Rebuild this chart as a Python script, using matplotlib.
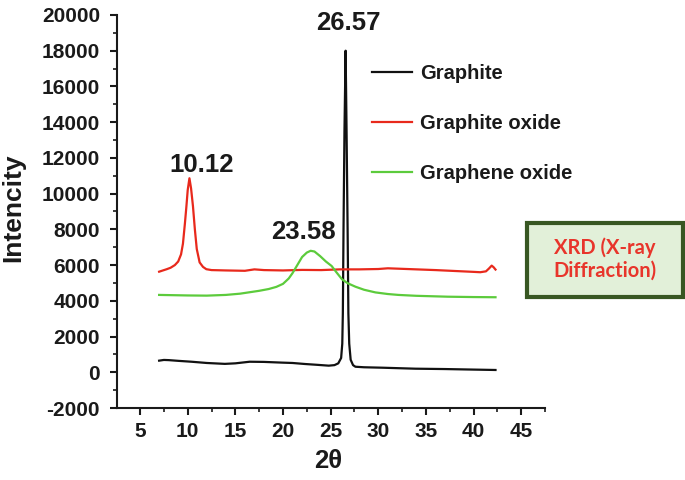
import matplotlib.pyplot as plt
from matplotlib.patches import Rectangle
from matplotlib.ticker import MultipleLocator

# XRD patterns
graphite_2theta = [7.0, 7.5, 8.0, 9.0, 10.4, 12.0, 13.9, 15.0, 16.5, 18.0, 19.9, 21.0, 22.3, 23.5,
                   24.8, 25.4, 25.8, 26.1, 26.22, 26.28, 26.35, 26.45, 26.57, 26.67, 26.78, 26.86,
                   26.95, 27.1, 27.35, 27.6, 28.5, 30.4, 33.9, 37.0, 40.0, 42.3]
graphite_int = [650, 690, 680, 640, 590, 520, 470, 500, 590, 580, 540, 520, 463, 420,
                370, 400, 500, 800, 1600, 3300, 8000, 13500, 18000, 13500, 8000, 3300,
                1600, 700, 400, 310, 280, 256, 200, 180, 150, 128]

gr_oxide_2theta = [7.0, 7.8, 8.2, 8.65, 9.0, 9.3, 9.5, 9.7, 9.86, 10.0, 10.18, 10.35, 10.55, 10.75,
                   10.95, 11.25, 11.6, 11.95, 12.5, 14.0, 16.0, 17.0, 18.0, 20.0, 22.0, 24.0, 26.0,
                   28.0, 30.0, 31.0, 32.0, 34.0, 36.0, 38.0, 40.0, 40.7, 41.3, 41.6, 41.9, 42.1, 42.3]
gr_oxide_int = [5630, 5770, 5850, 6000, 6200, 6600, 7200, 8300, 9270, 10200, 10860, 10300, 9300, 8000,
                6900, 6150, 5900, 5770, 5720, 5700, 5680, 5760, 5720, 5700, 5730, 5720, 5760,
                5760, 5780, 5820, 5800, 5760, 5720, 5670, 5620, 5600, 5650, 5800, 5970, 5880, 5750]

gn_oxide_2theta = [7.0, 8.0, 10.0, 12.0, 14.0, 15.5, 16.5, 17.5, 18.5, 19.3, 20.0, 20.6, 21.0,
                   21.5, 22.0, 22.5, 22.9, 23.3, 23.9, 24.5, 25.1, 25.6, 26.2, 26.8, 27.6,
                   28.5, 29.7, 31.0, 32.1, 34.0, 37.3, 40.0, 42.3]
gn_oxide_int = [4330, 4320, 4300, 4290, 4330, 4400, 4480, 4560, 4660, 4780, 4950, 5250, 5550,
                6000, 6450, 6700, 6800, 6760, 6500, 6200, 5950, 5600, 5200, 4980, 4790,
                4620, 4470, 4380, 4330, 4280, 4230, 4210, 4200]

series_names = ["Graphite", "Graphite oxide", "Graphene oxide"]
series_colors = ["#111111", "#e8291c", "#5ccb3c"]

peak_labels = ["10.12", "23.58", "26.57"]
peak_label_pos = [(11.5, 11210), (22.1, 7446), (26.9, 19165)]

x_ticks = [5, 10, 15, 20, 25, 30, 35, 40, 45]
y_ticks = [-2000, 0, 2000, 4000, 6000, 8000, 10000, 12000, 14000, 16000, 18000, 20000]

FONT = ["Liberation Sans", "DejaVu Sans"]
plt.rcParams["font.family"] = FONT
plt.rcParams["font.weight"] = "bold"
plt.rcParams["axes.unicode_minus"] = False

fig = plt.figure(figsize=(6.85, 4.8), dpi=100)
ax = fig.add_axes([0.1704, 0.15, 0.6253, 0.8188])

curves = [(graphite_2theta, graphite_int), (gr_oxide_2theta, gr_oxide_int), (gn_oxide_2theta, gn_oxide_int)]
for (xs, ys), name, color in zip(curves, series_names, series_colors):
    ax.plot(xs, ys, color=color, lw=1.6, label=name)

for text, (px, py) in zip(peak_labels, peak_label_pos):
    ax.text(px, py, text, ha="center", va="baseline", fontsize=18.5, fontweight="bold", color="#1a1a1a")

ax.set_xlim(2.55, 47.5)
ax.set_ylim(-2000, 20000)
ax.set_xticks(x_ticks, labels=[str(v) for v in x_ticks], fontweight="bold", fontsize=15, color="#1a1a1a")
ax.set_yticks(y_ticks, labels=[str(v) for v in y_ticks], fontweight="bold", fontsize=15, color="#1a1a1a")
ax.xaxis.set_minor_locator(MultipleLocator(2.5))
ax.yaxis.set_minor_locator(MultipleLocator(1000))

for side in ["top", "right"]:
    ax.spines[side].set_visible(False)
for side in ["left", "bottom"]:
    ax.spines[side].set_linewidth(1.5)
    ax.spines[side].set_color("#1a1a1a")

ax.tick_params(which="major", direction="out", length=5, width=1.5, color="#1a1a1a")
ax.tick_params(which="minor", direction="out", length=3, width=1.2, color="#1a1a1a")
ax.tick_params(axis="y", pad=7)
ax.tick_params(axis="x", pad=5)

fig.text(13 / 685, 1 - 208 / 480, "Intencity", rotation=90, ha="center", va="center",
         fontsize=19, fontweight="bold", color="#1a1a1a")
fig.text(328 / 685, 1 - 461 / 480, "2\u03b8", ha="center", va="center",
         fontsize=18.5, fontweight="bold", color="#1a1a1a")

leg = ax.legend(loc="upper left", bbox_to_anchor=(372 / 685, 1 - 64 / 480), bbox_transform=fig.transFigure,
                frameon=False, prop={"family": FONT, "weight": "bold", "size": 14.5},
                handlelength=2.0, handletextpad=0.4, labelspacing=1.53, borderpad=0, borderaxespad=0)
for t in leg.get_texts():
    t.set_color("#1a1a1a")

# XRD info box
box = Rectangle((527 / 685, 1 - 297 / 480), 156 / 685, 74 / 480, transform=fig.transFigure,
                facecolor="#e2f0d9", edgecolor="#385723", lw=3)
fig.patches.append(box)
fig.text(605 / 685, 1 - 259 / 480, "XRD (X-ray\nDiffraction)", ha="center", va="center",
         fontsize=14.5, fontweight="bold", color="#e8352b", family=["Lato", "DejaVu Sans"],
         linespacing=1.15)

fig.savefig("out.png", dpi=100)
